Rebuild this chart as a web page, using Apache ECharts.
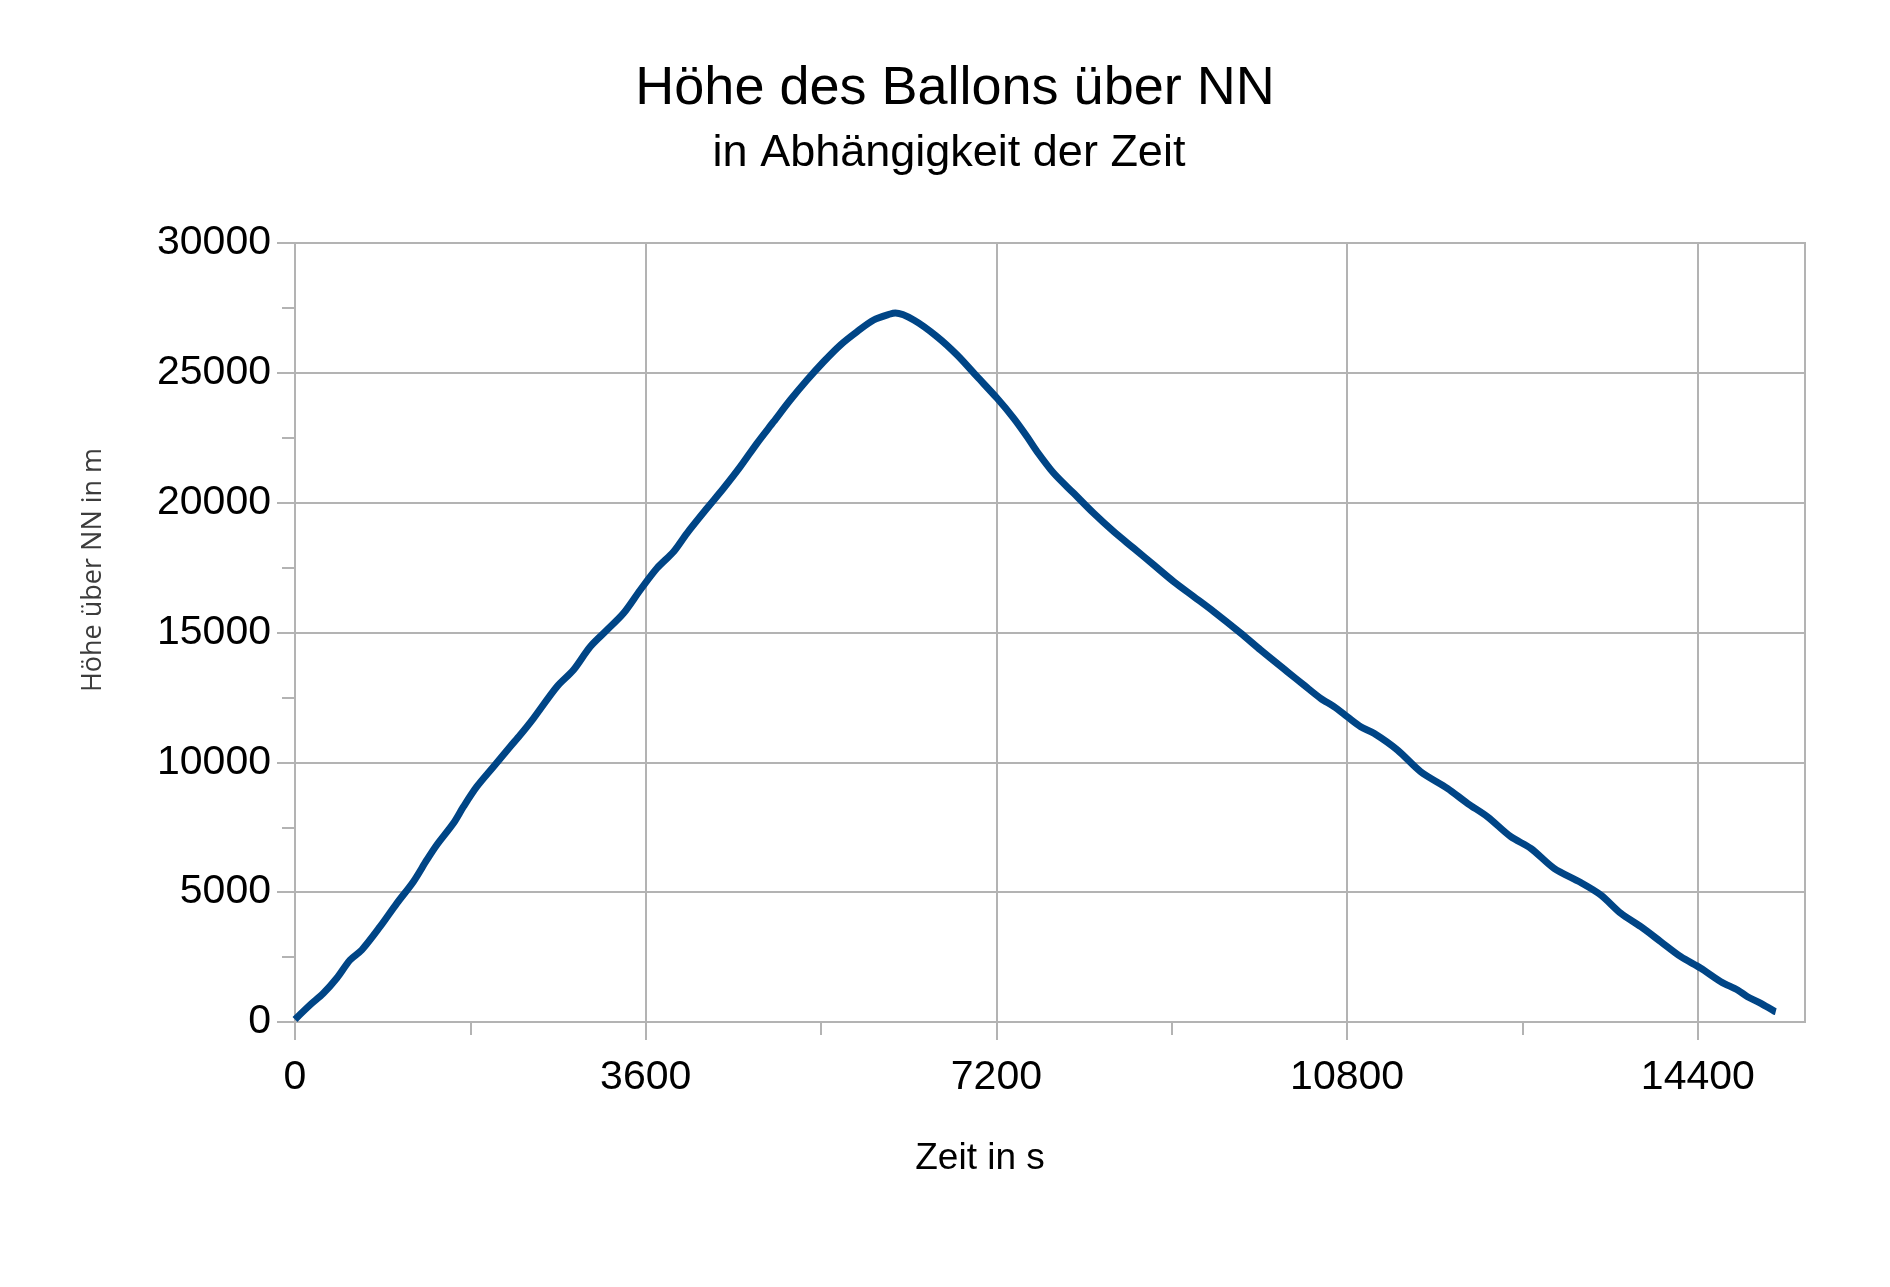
<!DOCTYPE html>
<html>
<head>
<meta charset="utf-8">
<script src="https://cdn.jsdelivr.net/npm/echarts@6/dist/echarts.min.js"></script>
<style>
html,body{margin:0;padding:0;background:#fff;}
#chart{width:1890px;height:1287px;}
</style>
</head>
<body>
<div id="chart"></div>
<script>
const chartTitle = 'Höhe des Ballons über NN';
const chartSubtitle = 'in Abhängigkeit der Zeit';
const xAxisTitle = 'Zeit in s';
const yAxisTitle = 'Höhe über NN in m';

const xMajorTicks = [0, 3600, 7200, 10800, 14400];
const xMinorTicks = [1800, 5400, 9000, 12600];

const timeSeconds = [
  0, 154, 291, 428, 565, 685, 873, 1045, 1215, 1353, 1455, 1626, 1729, 1866,
  2037, 2208, 2311, 2448, 2688, 2858, 3030, 3202, 3372, 3544, 3715, 3886,
  4023, 4229, 4399, 4571, 4742, 4913, 5084, 5256, 5426, 5598, 5769, 5940,
  6111, 6163, 6351, 6591, 6797, 7002, 7207, 7378, 7515, 7618, 7789, 7994,
  8199, 8405, 8610, 8816, 9021, 9227, 9432, 9706, 9912, 10186, 10356, 10528,
  10665, 10802, 10939, 11075, 11316, 11555, 11829, 12035, 12240, 12480,
  12685, 12924, 13198, 13404, 13609, 13815, 14020, 14225, 14431, 14636,
  14808, 14910, 15047, 15184, 15200
];
const heightMeters = [
  100, 655, 1105, 1683, 2388, 2773, 3670, 4571, 5403, 6239, 6817, 7653, 8292, 9062,
  9832, 10603, 11052, 11696, 12913, 13556, 14453, 15096, 15738, 16637, 17473, 18112,
  18820, 19783, 20553, 21385, 22286, 23118, 23953, 24724, 25428, 26071, 26584, 27034,
  27265, 27300, 27034, 26391, 25686, 24851, 24019, 23249, 22540, 21963, 21131, 20360,
  19590, 18882, 18243, 17599, 16956, 16379, 15801, 14980, 14325, 13490, 12977, 12465,
  12141, 11756, 11371, 11118, 10475, 9639, 9000, 8422, 7906, 7136,
  6689, 5919, 5370, 4891, 4186, 3670, 3092, 2515, 2068, 1552,
  1232, 974, 720, 420, 400
];

const seriesData = timeSeconds.map((t, i) => [t, heightMeters[i]]);

const gridColor = '#b3b3b3';
const labelFont = 'Liberation Sans, Arial, sans-serif';
const plainNumber = v => String(v);

const chart = echarts.init(document.getElementById('chart'), null, {renderer: 'canvas'});
chart.setOption({
  backgroundColor: '#ffffff',
  animation: false,
  title: [
    {
      text: chartTitle, left: 950, textAlign: 'center', top: 57,
      textStyle: {fontFamily: labelFont, fontSize: 54, fontWeight: 'normal', color: '#000'}
    },
    {
      text: chartSubtitle, left: 944, textAlign: 'center', top: 126,
      textStyle: {fontFamily: labelFont, fontSize: 45, fontWeight: 'normal', color: '#000'}
    }
  ],
  grid: {
    left: 295, right: 85, top: 243, bottom: 265,
    show: true, borderColor: gridColor, borderWidth: 2, containLabel: false
  },
  xAxis: [
    {
      type: 'value', min: 0, max: 15500, interval: 3600,
      name: xAxisTitle, nameLocation: 'middle', nameGap: 118,
      nameTextStyle: {fontFamily: labelFont, fontSize: 37, color: '#000', padding: [0, 140, 0, 0]},
      axisLine: {show: true, lineStyle: {color: gridColor, width: 2}},
      axisTick: {show: true, length: 18, customValues: xMajorTicks, lineStyle: {color: gridColor, width: 2}},
      axisLabel: {
        customValues: xMajorTicks, margin: 35, hideOverlap: false,
        formatter: plainNumber,
        fontFamily: labelFont, fontSize: 41, color: '#000'
      },
      splitLine: {show: true, lineStyle: {color: gridColor, width: 2}}
    },
    {
      type: 'value', min: 0, max: 15500, position: 'bottom',
      axisLine: {show: false},
      axisTick: {show: true, length: 13, customValues: xMinorTicks, lineStyle: {color: gridColor, width: 2}},
      axisLabel: {show: false},
      splitLine: {show: false}
    }
  ],
  yAxis: {
    type: 'value', min: 0, max: 30000, interval: 5000,
    name: yAxisTitle, nameLocation: 'middle', nameGap: 188, nameRotate: 90,
    nameTextStyle: {fontFamily: 'Open Sans, sans-serif', fontSize: 27, color: '#3c3c3c', padding: [0, 0, 0, 125]},
    axisLine: {show: true, lineStyle: {color: gridColor, width: 2}},
    axisTick: {show: true, length: 18, lineStyle: {color: gridColor, width: 2}},
    minorTick: {show: true, splitNumber: 2, length: 13, lineStyle: {color: gridColor, width: 2}},
    axisLabel: {margin: 24, formatter: plainNumber, fontFamily: labelFont, fontSize: 41, color: '#000'},
    splitLine: {show: true, lineStyle: {color: gridColor, width: 2}}
  },
  series: [{
    type: 'line',
    xAxisIndex: 0,
    data: seriesData,
    showSymbol: false,
    smooth: 0.3,
    lineStyle: {color: '#004586', width: 7, cap: 'butt', join: 'round'},
    itemStyle: {color: '#004586'}
  }]
});
</script>
</body>
</html>
